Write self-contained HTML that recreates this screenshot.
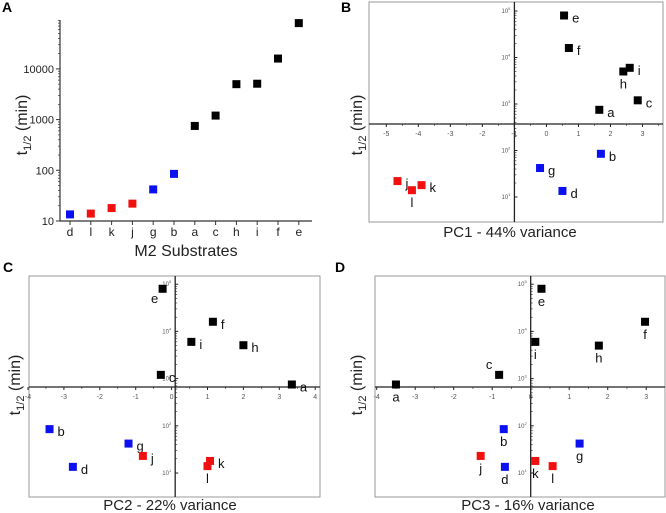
<!DOCTYPE html>
<html><head><meta charset="utf-8"><style>
html,body{margin:0;padding:0;background:#fff;}
svg{display:block;font-family:"Liberation Sans",sans-serif;}
</style></head><body>
<svg id="fig" width="666" height="513" viewBox="0 0 666 513"></svg>
<script>
// Panel A data
const aCats = ['d','l','k','j','g','b','a','c','h','i','f','e'];
const aVals = [13.5,14,18,22,42,85,750,1200,5000,5100,16000,80000];
const aColors = ['b','r','r','r','b','b','k','k','k','k','k','k'];
const aTicks = [10,100,1000,10000];
const aTickLabels = ['10','100','1000','10000'];
// Panel B data (PC1)
const bNames = ['e','f','i','h','c','a','b','g','d','j','l','k'];
const bX = [0.55,0.7,2.6,2.4,2.85,1.65,1.7,-0.2,0.5,-4.65,-4.2,-3.9];
const bY = [80000,16000,6000,5000,1200,750,85,42,13.5,22,14,18];
const bColors = ['k','k','k','k','k','k','b','b','b','r','r','r'];
const bXTicks = [-5,-4,-3,-2,-1,0,1,2,3];
// Panel C data (PC2)
const cNames = ['e','f','i','h','c','a','b','g','j','d','k','l'];
const cX = [-0.25,1.15,0.55,2.0,-0.3,3.35,-3.4,-1.2,-0.8,-2.75,1.07,1.0];
const cY = [80000,16000,6000,5100,1200,750,85,42,23,13.5,18,14];
const cColors = ['k','k','k','k','k','k','b','b','r','b','r','r'];
const cXTicks = [-4,-3,-2,-1,0,1,2,3,4];
// Panel D data (PC3)
const dNames = ['e','f','i','h','c','a','b','g','j','d','k','l'];
const dX = [0.28,2.97,0.12,1.77,-0.82,-3.5,-0.7,1.27,-1.3,-0.67,0.12,0.57];
const dY = [80000,16000,6000,5000,1200,750,85,42,23,13.5,18,14];
const dColors = ['k','k','k','k','k','k','b','b','r','b','r','r'];
const dXTicks = [-4,-3,-2,-1,0,1,2,3];
const logTicks = [10,100,1000,10000,100000];
const logTickLabels = ['1','2','3','4','5'];

const NS='http://www.w3.org/2000/svg';
const svg=document.getElementById('fig');
const COL={k:'#000',b:'#0a10f0',r:'#f01010'};
function el(tag,attrs,parent,text){const e=document.createElementNS(NS,tag);for(const k in attrs)e.setAttribute(k,attrs[k]);if(text!==undefined)e.textContent=text;(parent||svg).appendChild(e);return e;}
function logScale(y0,decPx){return v=>y0-Math.log10(v/10)*decPx;}

[['A',2,12],['B',341,12],['C',3,272],['D',335,272]].forEach(p=>{
  const t=el('text',{x:p[1],y:p[2],'font-size':14,'font-weight':'bold'},svg,p[0]);
  
  
});

// ---------- Panel A ----------
(function(){
  const g=el('g',{});
  
  
  const ys=logScale(221,50.7);
  const xs=i=>70+i*20.8;
  el('line',{x1:60,y1:20,x2:60,y2:221,stroke:'#333','stroke-width':1.2},g);
  el('line',{x1:60,y1:221,x2:312,y2:221,stroke:'#333','stroke-width':1.2},g);
  aTicks.forEach((v,i)=>{
    el('line',{x1:56,y1:ys(v),x2:60,y2:ys(v),stroke:'#333'},g);
    for(let m=2;m<10;m++){const yy=ys(v*m);if(yy>20)el('line',{x1:58,y1:yy,x2:60,y2:yy,stroke:'#333','stroke-width':0.7},g);}
    const t=el('text',{x:54,y:ys(v)+4,'font-size':11,'text-anchor':'end',fill:'#222'},g,aTickLabels[i]);
    
    
  });
  aCats.forEach((c,i)=>{
    el('line',{x1:xs(i),y1:221,x2:xs(i),y2:225,stroke:'#333'},g);
    const t=el('text',{x:xs(i),y:236,'font-size':12,'text-anchor':'middle',fill:'#222'},g,c);
    
    
    const r=el('rect',{x:xs(i)-4,y:ys(aVals[i])-4,width:8,height:8,fill:COL[aColors[i]]},g);
    
    
  });
  const xt=el('text',{x:186,y:256,'font-size':16,'text-anchor':'middle',fill:'#222'},g,'M2 Substrates');
  
  
  const yt=el('text',{transform:'translate(27,125) rotate(-90)','font-size':16,'text-anchor':'middle',fill:'#222'},g);
  
  
  yt.innerHTML='t<tspan font-size="11" dy="4">1/2</tspan><tspan dy="-4"> (min)</tspan>';
})();

// ---------- Scatter panels ----------
function scatter(cfg){
  const g=el('g',{});
  
  
  const xs=v=>cfg.x0+(v-cfg.t0)*cfg.xStep;
  const ys=logScale(cfg.y10,cfg.dec);
  el('rect',{x:cfg.L,y:cfg.T,width:cfg.R-cfg.L,height:cfg.B-cfg.T,fill:'none',stroke:'#999','stroke-width':1},g);
  const vx=xs(cfg.vAxis), hy=cfg.hAxisY;
  el('line',{x1:cfg.L,y1:hy,x2:cfg.R,y2:hy,stroke:'#222','stroke-width':1.3},g);
  el('line',{x1:vx,y1:cfg.T,x2:vx,y2:cfg.B,stroke:'#222','stroke-width':1.3},g);
  cfg.xTicks.forEach(v=>{
    const x=xs(v);
    el('line',{x1:x,y1:hy,x2:x,y2:hy+3,stroke:'#222'},g);
    const mx=x+cfg.xStep/2;
    if(mx<cfg.R-1)el('line',{x1:mx,y1:hy,x2:mx,y2:hy+2,stroke:'#222','stroke-width':0.6},g);
    const t=el('text',{x:x,y:hy+12,'font-size':7,'text-anchor':'middle',fill:'#555'},g,String(v));
    
    
  });
  logTicks.forEach((v,i)=>{
    const y=ys(v);
    if(y<cfg.T-2)return;
    el('line',{x1:vx,y1:y,x2:vx+3,y2:y,stroke:'#222'},g);
    for(let m=2;m<10;m++){const yy=ys(v*m);if(yy>cfg.T)el('line',{x1:vx,y1:yy,x2:vx+2,y2:yy,stroke:'#222','stroke-width':0.6},g);}
    const t=el('text',{x:vx-4,y:y+2,'font-size':6,'text-anchor':'end',fill:'#555'},g);
    
    
    t.innerHTML='10<tspan font-size="4" dy="-3">'+logTickLabels[i]+'</tspan>';
  });
  cfg.names.forEach((n,i)=>{
    const px=xs(cfg.xv[i]), py=ys(cfg.yv[i]);
    const r=el('rect',{x:px-4,y:py-4,width:8,height:8,fill:COL[cfg.cols[i]]},g);
    
    
    let pos=cfg.labelDefault;
    if(cfg.below.indexOf(n)>=0)pos='b';
    if(cfg.belowLeft&&cfg.belowLeft.indexOf(n)>=0)pos='bl';
    if(cfg.above&&cfg.above.indexOf(n)>=0)pos='a';
    let lx,ly,anc='start';
    if(pos==='b'){lx=px;ly=py+17;anc='middle';}
    else if(pos==='bl'){lx=px-8;ly=py+14;anc='middle';}
    else if(pos==='a'){lx=px-10;ly=py-6;anc='middle';}
    else{lx=px+8;ly=py+7;}
    const t=el('text',{x:lx,y:ly,'font-size':13,'text-anchor':anc,fill:'#111'},g,n);
    
    
  });
  const xt=el('text',{x:cfg.titleX,y:cfg.titleY,'font-size':15,'text-anchor':'middle',fill:'#222'},g,cfg.title);
  
  
  const yt=el('text',{transform:'translate('+cfg.ytX+','+cfg.ytY+') rotate(-90)','font-size':16,'text-anchor':'middle',fill:'#222'},g);
  
  
  yt.innerHTML='t<tspan font-size="11" dy="4">1/2</tspan><tspan dy="-4"> (min)</tspan>';
}

scatter({name:'panel-b',L:369,R:663,T:2,B:222,x0:386.3,t0:-5,xStep:32.03,y10:197,dec:46.5,vAxis:-1,hAxisY:124,
  xTicks:bXTicks,names:bNames,xv:bX,yv:bY,cols:bColors,below:['h','l'],labelDefault:'r',
  title:'PC1 - 44% variance',titleX:510,titleY:237,ytX:362,ytY:125});
scatter({name:'panel-c',L:29,R:320,T:276,B:497,x0:28,t0:-4,xStep:35.9,y10:473,dec:47.2,vAxis:0.1,hAxisY:387,
  xTicks:cXTicks,names:cNames,xv:cX,yv:cY,cols:cColors,below:['l'],belowLeft:['e'],labelDefault:'r',
  title:'PC2 - 22% variance',titleX:170,titleY:510,ytX:20,ytY:385});
scatter({name:'panel-d',L:375,R:665,T:276,B:497,x0:376.7,t0:-4,xStep:38.5,y10:473,dec:47.2,vAxis:0,hAxisY:387,
  xTicks:dXTicks,names:dNames,xv:dX,yv:dY,cols:dColors,below:['e','f','i','h','a','b','g','j','d','k','l'],above:['c'],labelDefault:'b',
  title:'PC3 - 16% variance',titleX:528,titleY:510,ytX:362,ytY:385});
</script>
</body></html>
